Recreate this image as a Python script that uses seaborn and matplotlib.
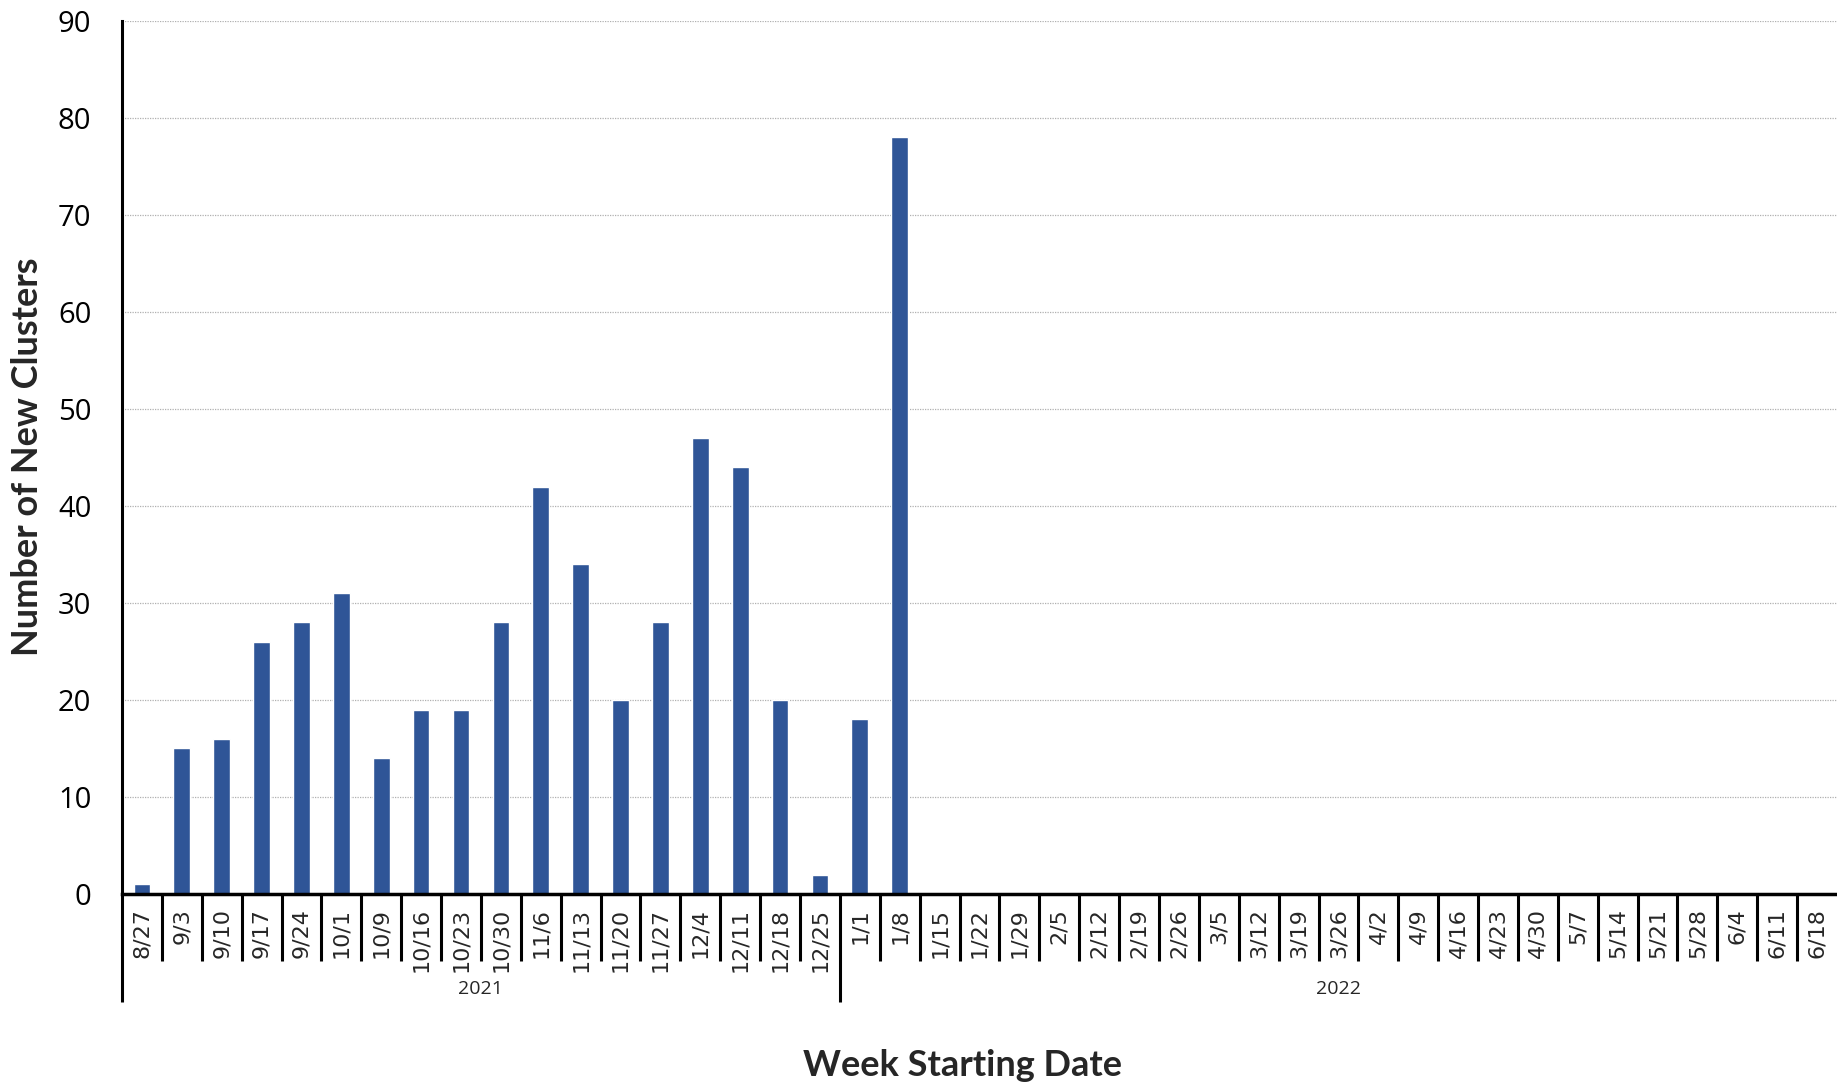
import matplotlib
matplotlib.use('Agg')
import matplotlib.pyplot as plt
import matplotlib.transforms as mtransforms
import seaborn as sns

# Data
weeks_2021 = ['8/27', '9/3', '9/10', '9/17', '9/24', '10/1', '10/9', '10/16', '10/23',
              '10/30', '11/6', '11/13', '11/20', '11/27', '12/4', '12/11', '12/18', '12/25']
weeks_2022 = ['1/1', '1/8', '1/15', '1/22', '1/29', '2/5', '2/12', '2/19', '2/26', '3/5',
              '3/12', '3/19', '3/26', '4/2', '4/9', '4/16', '4/23', '4/30', '5/7', '5/14',
              '5/21', '5/28', '6/4', '6/11', '6/18']
years = ['2021', '2022']
clusters = [1, 15, 16, 26, 28, 31, 14, 19, 19, 28, 42, 34, 20, 28, 47, 44, 20, 2,
            18, 78, 0, 0, 0, 0, 0, 0, 0, 0, 0, 0, 0, 0, 0, 0, 0, 0, 0, 0, 0, 0, 0, 0, 0]

weeks = weeks_2021 + weeks_2022
bar_color = '#2F5597'

sns.set_style('white')
fig = plt.figure(figsize=(18.37, 10.87), dpi=100)
ax = fig.add_axes([0.0664, 0.1776, 0.9336, 0.8031])

sns.barplot(x=list(range(len(weeks))), y=clusters, color=bar_color, width=0.42,
            saturation=1, ax=ax)

ax.set_xlim(-0.5, len(weeks) - 0.5)
ax.set_ylim(0, 90)
ax.set_yticks(range(0, 91, 10))
ax.yaxis.grid(True, color='#b0b0b0', linestyle=(0, (1, 1)), linewidth=0.9)
ax.set_axisbelow(True)

for s in ['top', 'right']:
    ax.spines[s].set_visible(False)
ax.spines['left'].set_linewidth(2.2)
ax.spines['bottom'].set_linewidth(2.5)
ax.spines['left'].set_color('black')
ax.spines['bottom'].set_color('black')

ax.tick_params(axis='y', direction='out', length=7, width=2, pad=15,
               labelsize=21, colors='black')
for lab in ax.get_yticklabels():
    lab.set_fontfamily('Open Sans')

ax.set_xticks(range(len(weeks)))
ax.set_xticklabels(weeks, rotation=90, fontsize=16,
                   family=['Liberation Sans Narrow', 'DejaVu Sans'])
ax.tick_params(axis='x', length=0, pad=10)
ax.set_xlabel('')
ax.set_ylabel('')

# category separators and year separators under the axis
trans = mtransforms.blended_transform_factory(ax.transData, ax.transAxes)
n21 = len(weeks_2021)
for i in range(1, len(weeks)):
    low = -0.124 if i == n21 else -0.077
    ax.plot([i - 0.5, i - 0.5], [0, low], color='black', lw=2.2,
            transform=trans, clip_on=False, solid_capstyle='butt')
ax.plot([-0.5, -0.5], [0, -0.124], color='black', lw=2.2,
        transform=trans, clip_on=False, solid_capstyle='butt')

# year labels
ax.text((n21 - 1) / 2, -0.109, years[0], transform=trans, ha='center', va='center',
        fontsize=14, family='Open Sans')
ax.text((n21 + len(weeks) - 1) / 2, -0.109, years[1], transform=trans, ha='center',
        va='center', fontsize=14, family='Open Sans')

fig.text(0.524, 1 - 1066 / 1087, 'Week Starting Date', ha='center', va='center',
         fontsize=26, fontweight='bold', family='Lato')
fig.text(28 / 1837, 1 - 457 / 1087, 'Number of New Clusters', ha='center', va='center',
         rotation=90, fontsize=26, fontweight='bold', family='Lato')

fig.savefig('out.png', dpi=100)
